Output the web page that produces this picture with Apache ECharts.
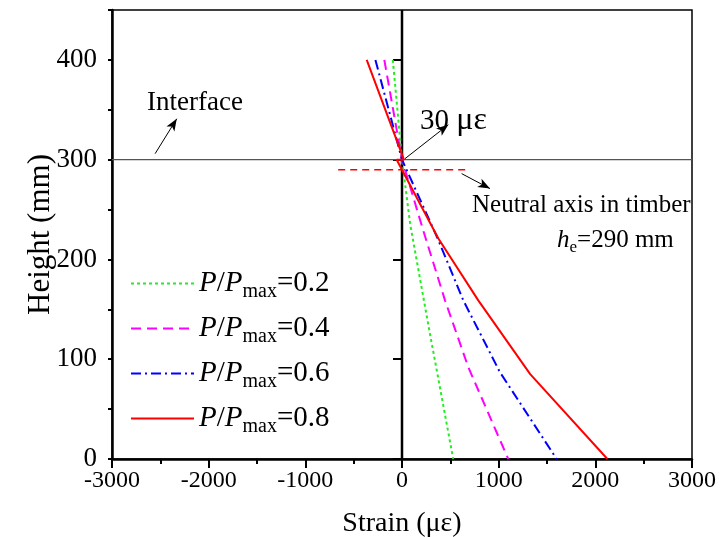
<!DOCTYPE html>
<html>
<head>
<meta charset="utf-8">
<script src="https://cdn.jsdelivr.net/npm/echarts@6/dist/echarts.min.js"></script>
<style>
  html, body { margin: 0; padding: 0; background: #fff; }
  #chart { width: 723px; height: 537px; }
</style>
</head>
<body>
<div id="chart"></div>
<script>
// Load levels P/Pmax
const loadRatios = ['0.2', '0.4', '0.6', '0.8'];

// Strain profiles along the section: [strain (με), height (mm)]
const strain02 = [[-95, 400], [0, 300], [85, 235], [290, 125], [530, 0]];
const strain04 = [[-183, 400], [0, 300], [220, 229], [445, 159], [686, 92], [1099, 0]];
const strain06 = [[-275, 400], [0, 300], [360, 223], [634, 159], [1013, 87], [1600, 0]];
const strain08 = [[-365, 400], [20, 300], [-55, 300], [376, 221], [789, 159], [1326, 85], [2125, 0]];

// Axis ranges and labelled ticks
const xRange = [-3000, 3000];
const yRange = [0, 450];
const yLabelValues = [0, 100, 200, 300, 400];

// Reference levels
const interfaceHeight = 300;
const neutralAxisHeight = 290;
const neutralAxisSpan = [-660, 670];

// Annotation arrows (tail -> head), data coordinates
const interfaceArrow = [[-2554, 306], [-2330, 341]];
const slipArrow = [[31, 301], [479, 335]];
const neutralArrow = [[617, 286], [910, 271]];

const FONT = 'Liberation Serif';
const profiles = [strain02, strain04, strain06, strain08];
const colors = ['#22ee22', '#ff00ff', '#0000ff', '#ff0000'];
const dashes = [[3, 3], [10, 6], [10, 4, 2, 4], 'solid'];

const chart = echarts.init(document.getElementById('chart'), null, { renderer: 'canvas' });

const profileSeries = profiles.map((data, i) => ({
  name: 'P/Pmax=' + loadRatios[i],
  type: 'line',
  data: data,
  symbol: 'none',
  z: 5,
  lineStyle: { color: colors[i], width: 2, type: dashes[i] },
  itemStyle: { color: colors[i] },
  animation: false
}));

const arrowLine = (pair) => [
  { coord: pair[0], symbol: 'none' },
  { coord: pair[1], symbol: 'arrow' }
];

const option = {
  animation: false,
  grid: {
    left: 112, right: 31, top: 10, bottom: 78,
    outerBoundsMode: 'none',
    containLabel: false,
    show: true, borderColor: '#000', borderWidth: 1.5, backgroundColor: 'transparent'
  },
  xAxis: {
    type: 'value',
    min: xRange[0], max: xRange[1], interval: 1000,
    name: 'Strain (με)',
    nameLocation: 'middle', nameGap: 51,
    nameMoveOverlap: false,
    nameTextStyle: { fontFamily: FONT, fontSize: 28, color: '#000' },
    axisLine: { show: true, onZero: false, lineStyle: { color: '#000', width: 2.5 } },
    axisTick: { show: true, inside: false, length: 9, lineStyle: { color: '#000', width: 2 } },
    minorTick: { show: true, splitNumber: 2, length: 5, lineStyle: { color: '#000', width: 2 } },
    splitLine: { show: false },
    axisLabel: {
      fontFamily: FONT, fontSize: 24, color: '#000', margin: 10,
      formatter: v => (v < 0 ? '-' + Math.abs(v) : String(v))
    }
  },
  yAxis: [
    {
      type: 'value',
      min: yRange[0], max: yRange[1], interval: 50,
      position: 'left',
      axisLine: { show: true, onZero: false, lineStyle: { color: '#000', width: 2.5 } },
      axisTick: { show: true, length: 4, lineStyle: { color: '#000', width: 2 } },
      axisLabel: { show: false },
      splitLine: { show: false }
    },
    {
      type: 'value',
      min: yRange[0], max: yRange[1], interval: 100,
      position: 'left',
      name: 'Height (mm)',
      nameLocation: 'middle', nameGap: 56,
      nameMoveOverlap: false,
      nameTextStyle: { fontFamily: FONT, fontSize: 31, color: '#000' },
      axisLine: { show: false },
      axisTick: { show: true, length: 9, customValues: yLabelValues, lineStyle: { color: '#000', width: 2 } },
      axisLabel: {
        customValues: yLabelValues,
        fontFamily: FONT, fontSize: 27, color: '#000', margin: 15,
        formatter: v => (v > 400 ? '' : String(v))
      },
      splitLine: { show: false }
    }
  ],
  legend: {
    orient: 'vertical',
    left: 125, top: 264,
    itemWidth: 63, itemHeight: 12, itemGap: 12,
    data: profileSeries.map(s => s.name),
    itemStyle: { opacity: 0 },
    formatter: name => '{i|P}/{i|P}{s|max}=' + name.split('=')[1],
    textStyle: {
      fontFamily: FONT, fontSize: 29, color: '#000',
      rich: {
        i: { fontFamily: FONT, fontSize: 29, fontStyle: 'italic', color: '#000' },
        s: { fontFamily: FONT, fontSize: 20, color: '#000', padding: [17, 0, 0, 0] }
      }
    }
  },
  series: [
    {
      name: 'interface',
      type: 'line',
      data: [[xRange[0], interfaceHeight], [xRange[1], interfaceHeight]],
      symbol: 'none', z: 2,
      lineStyle: { color: '#555', width: 1.2 },
      markLine: {
        silent: true,
        symbolSize: [7, 12],
        label: { show: false },
        lineStyle: { color: '#000', width: 1, type: 'solid' },
        data: [arrowLine(interfaceArrow), arrowLine(slipArrow), arrowLine(neutralArrow)]
      }
    },
    {
      name: 'zero strain',
      type: 'line',
      data: [[0, yRange[0]], [0, yRange[1]]],
      symbol: 'none', z: 3,
      lineStyle: { color: '#000', width: 2.5 }
    },
    {
      name: 'neutral axis',
      type: 'line',
      data: [[neutralAxisSpan[0], neutralAxisHeight], [neutralAxisSpan[1], neutralAxisHeight]],
      symbol: 'none', z: 4,
      lineStyle: { color: '#ff0000', width: 1.5, type: [7, 5] }
    },
    ...profileSeries
  ],
  graphic: [
    {
      type: 'text', left: 147, top: 89,
      style: { text: 'Interface', fontFamily: FONT, fontSize: 27, fill: '#000' }
    },
    {
      type: 'text', left: 420, top: 105,
      style: {
        text: '30 {g|με}', fontFamily: FONT, fontSize: 29, fill: '#000',
        rich: { g: { fontFamily: FONT, fontSize: 32, fill: '#000' } }
      }
    },
    {
      type: 'text', left: 472, top: 193,
      style: { text: 'Neutral axis in timber', fontFamily: FONT, fontSize: 25, fill: '#000' }
    },
    {
      type: 'text', left: 557, top: 228,
      style: {
        text: '{i|h}{s|e}=290 mm',
        fontFamily: FONT, fontSize: 25, fill: '#000',
        rich: {
          i: { fontFamily: FONT, fontSize: 25, fontStyle: 'italic', fill: '#000' },
          s: { fontFamily: FONT, fontSize: 17, fill: '#000', padding: [14, 0, 0, 0] }
        }
      }
    }
  ]
};

chart.setOption(option);
</script>
</body>
</html>
